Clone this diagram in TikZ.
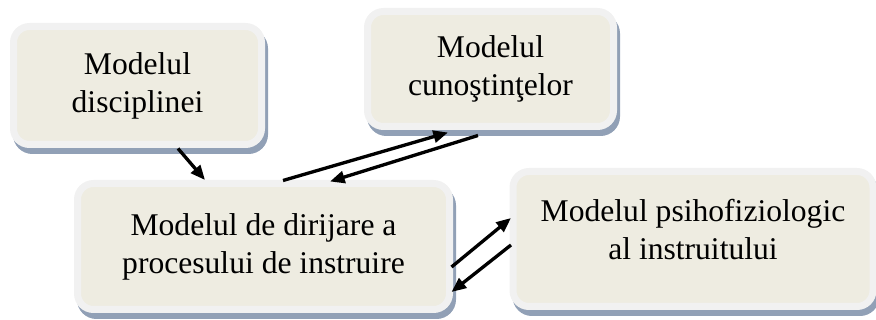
\documentclass[tikz,border=0pt]{standalone}
\usepackage{fontspec}
\setmainfont{Liberation Serif}
\usepackage{xcolor}
\usetikzlibrary{arrows.meta, positioning, calc}

\definecolor{boxfill}{RGB}{238,236,225}
\definecolor{boxrim}{RGB}{241,241,241}
\definecolor{boxshade}{RGB}{145,160,182}

\begin{document}
\begin{tikzpicture}[
  x=0.75pt, y=-0.75pt,
  every node/.style={font=\fontsize{23.7}{28.5}\selectfont},
  box/.style={rectangle, rounded corners=12pt, draw=boxrim, line width=5.25pt,
              fill=boxfill, align=center, inner sep=0pt,
              preaction={draw=boxshade, fill=boxshade,
                         transform canvas={xshift=2.25pt, yshift=-4.5pt}}},
  arrow/.style={-{Triangle[length=11pt, width=9pt]}, line width=2.5pt}
]
  \useasboundingbox (0,0) rectangle (876,320);

  \node[box, minimum width=186pt, minimum height=88.5pt] (discipl) at (137.5,85.5)
        {Modelul\\disciplinei};
  \node[box, minimum width=184.5pt, minimum height=86.25pt] (cunost) at (490.5,69)
        {Modelul\\cunoştinţelor};
  \node[box, minimum width=279pt, minimum height=94.5pt] (dirij) at (263.5,246.5)
        {Modelul de dirijare a\\procesului de instruire};
  \node[box, minimum width=270pt, minimum height=101.25pt, text depth=15pt] (psiho)
        at (693,239) {Modelul psihofiziologic\\al instruitului};

  \draw[arrow] ([shift={(40.5,0.5)}]discipl.south) -- ([shift={(-58.5,0)}]dirij.north);
  \draw[arrow] ([shift={(19.5,0.5)}]dirij.north) -- ([shift={(-42.5,2.5)}]cunost.south);
  \draw[arrow] ([shift={(-12.5,5.5)}]cunost.south) -- ([shift={(66.5,1.5)}]dirij.north);
  \draw[arrow] ([shift={(-1.5,20.5)}]dirij.east) -- ([shift={(1.5,-21)}]psiho.west);
  \draw[arrow] ([shift={(1.5,6)}]psiho.west) -- ([shift={(-1.5,45.5)}]dirij.east);
\end{tikzpicture}
\end{document}
